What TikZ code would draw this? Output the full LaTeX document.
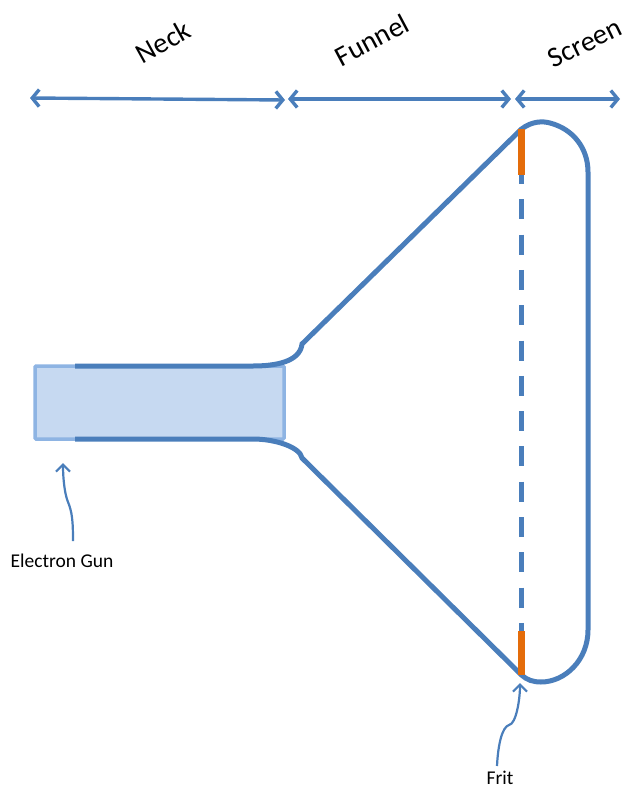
\documentclass[tikz,border=0pt]{standalone}
\usepackage{fontspec}
\setmainfont{Carlito}
\usetikzlibrary{positioning, arrows.meta}
\definecolor{tubeblue}{HTML}{4A7EBB}
\definecolor{neckfill}{HTML}{C6D9F1}
\definecolor{neckedge}{HTML}{8EB4E3}
\definecolor{fritorange}{HTML}{E46C0A}

\begin{document}
\begin{tikzpicture}[
    x=1pt, y=-1pt,
    tube/.style={draw=tubeblue, line width=5pt},
    span/.style={{Straight Barb[length=7pt,width=17pt]}-{Straight Barb[length=7pt,width=17pt]},
                 draw=tubeblue, line width=3.4pt},
    pointer/.style={-{Straight Barb[length=7pt,width=14pt]}, draw=tubeblue, line width=2.2pt},
    frit/.style={draw=fritorange, line width=7pt},
    section/.style={font=\fontsize{28.5}{32}\selectfont, rotate=#1, inner sep=0pt},
    note/.style={font=\fontsize{19.5}{22}\selectfont, inner sep=0pt},
]
\useasboundingbox (0,0) rectangle (627,787);

% Neck
\node[draw=neckedge, fill=neckfill, line width=3.5pt, rounded corners=1pt, minimum width=249pt,
      minimum height=73pt, inner sep=0pt, outer sep=0pt, anchor=north west] (neck) at (35,366) {};

% Corner points of the envelope
\coordinate (ntop) at (75,366);
\coordinate (nbot) at (75,439);
\coordinate (ftop) at (521.5,129);
\coordinate (fbot) at (521.5,675);
\coordinate (stop) at (521.5,175);
\coordinate (sbot) at (521.5,631);

% Glass outline
\draw[tube] (ntop) -- (253,366) .. controls (275,366) and (300,362) .. (302,344) -- (ftop)
    .. controls (532,121) and (543,121) .. (550,123) .. controls (573,129) and (588,148) .. (588,172)
    -- (588,630) .. controls (588,660) and (565,682) .. (541,682)
    .. controls (533,682) and (527,680) .. (fbot)
    -- (302,458) .. controls (300,447) and (275,439) .. (253,439) -- (nbot);

% Screen glass seam
\draw[tube, dash pattern=on 20pt off 15.3pt, dash phase=11pt] (stop) -- (sbot);
\draw[frit] (ftop) -- (stop);
\draw[frit] (fbot) -- (sbot);

% Span arrows
\coordinate (a0) at (30,98);
\coordinate (a1) at (285,100);
\coordinate (a2) at (288,99);
\coordinate (a3) at (511,99);
\coordinate (a4) at (515,99);
\coordinate (a5) at (620,99);
\draw[span] (a0) -- (a1);
\draw[span] (a2) -- (a3);
\draw[span] (a4) -- (a5);

% Span labels
\node[section=29] (necklbl) at (163,42) {Neck};
\node[section=28] (funnellbl) at (372,40) {Funnel};
\node[section=26] (screenlbl) at (585,43) {Screen};

% Pointers
\node[note] (gunlbl) at (62,561) {Electron Gun};
\coordinate (gunfoot) at (73,541);
\coordinate (guntip) at (63,463);
\draw[pointer] (gunfoot) .. controls (73,520) and (72,512) .. (68,502)
    .. controls (65,495) and (63,480) .. (guntip);

\node[note] (fritlbl) at (500,778) {Frit};
\coordinate (fritfoot) at (497,766);
\coordinate (frittip) at (520,683);
\draw[pointer] (fritfoot) .. controls (498,745) and (502,727) .. (509,725)
    .. controls (516,724) and (520,700) .. (frittip);

\end{tikzpicture}
\end{document}
